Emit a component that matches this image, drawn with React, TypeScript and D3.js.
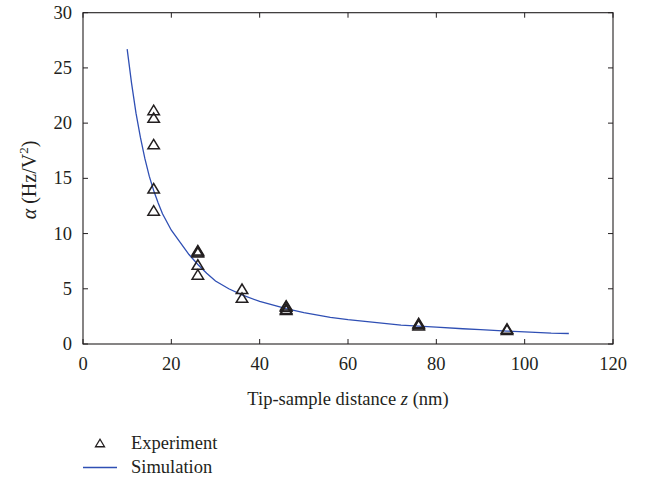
import React from "react";
import * as d3 from "d3";

const expZ = [16, 16, 16, 16, 16, 26, 26, 26, 26, 26, 36, 36, 46, 46, 46, 46, 76, 76, 76, 96, 96];
const expAlpha = [21.2, 20.5, 18.1, 14.1, 12.1, 8.5, 8.4, 8.3, 7.2, 6.3, 5.0, 4.2, 3.5, 3.4, 3.2, 3.1, 1.9, 1.8, 1.7, 1.4, 1.3];

const simZ = [10, 11, 12, 13, 14, 15, 16, 17, 18, 20, 22, 24, 26, 28, 30, 33, 36, 40, 46, 50, 56, 60, 66, 72, 76, 80, 86, 90, 96, 100, 106, 110];
const simAlpha = [26.7, 23.6, 20.9, 18.7, 16.8, 15.2, 13.9, 12.8, 11.8, 10.3, 9.2, 8.1, 7.2, 6.4, 5.7, 5.0, 4.45, 3.85, 3.2, 2.85, 2.42, 2.2, 1.95, 1.7, 1.62, 1.52, 1.38, 1.3, 1.17, 1.1, 0.98, 0.95];

const xTicks = [0, 20, 40, 60, 80, 100, 120];
const yTicks = [0, 5, 10, 15, 20, 25, 30];

const W = 651;
const H = 479;
const L = 83, R = 613, T = 12.7, B = 344;
const FONT = "'Liberation Serif', 'Times New Roman', serif";
const INK = "#231f20";
const BLUE = "#2f4fb4";

function tri(cx: number, cy: number, w: number, h: number) {
  return `M${cx - w / 2},${cy + h / 2}L${cx + w / 2},${cy + h / 2}L${cx},${cy - h / 2}Z`;
}

export default function App() {
  const x = d3.scaleLinear().domain([0, 120]).range([L, R]);
  const y = d3.scaleLinear().domain([0, 30]).range([B, T]);
  const line = d3
    .line<number>()
    .x((_, i) => x(simZ[i]))
    .y((d) => y(d));
  const tk = 5;
  return (
    <svg
      width={W}
      height={H}
      style={{ position: "absolute", left: 0, top: 0, background: "#fff" }}
      fontFamily={FONT}
    >
      <rect x={0} y={0} width={W} height={H} fill="#fff" />
      <path d={line(simAlpha) || ""} fill="none" stroke={BLUE} strokeWidth={1.3} />
      {expZ.map((z, i) => (
        <path
          key={i}
          d={tri(x(z), y(expAlpha[i]), 11.5, 9.5)}
          fill="none"
          stroke={INK}
          strokeWidth={1.5}
        />
      ))}
      <rect x={L} y={T} width={R - L} height={B - T} fill="none" stroke={INK} strokeWidth={1.1} />
      {xTicks.map((t) => (
        <g key={"x" + t}>
          <line x1={x(t)} x2={x(t)} y1={B} y2={B - tk} stroke={INK} strokeWidth={1} />
          <line x1={x(t)} x2={x(t)} y1={T} y2={T + tk} stroke={INK} strokeWidth={1} />
          <text x={x(t)} y={370} textAnchor="middle" fontSize={18.5} fill={INK}>
            {t}
          </text>
        </g>
      ))}
      {yTicks.map((t) => (
        <g key={"y" + t}>
          <line x1={L} x2={L + tk} y1={y(t)} y2={y(t)} stroke={INK} strokeWidth={1} />
          <line x1={R} x2={R - tk} y1={y(t)} y2={y(t)} stroke={INK} strokeWidth={1} />
          <text x={72} y={y(t) + 6} textAnchor="end" fontSize={18.5} fill={INK}>
            {t}
          </text>
        </g>
      ))}
      <text x={(L + R) / 2} y={405} textAnchor="middle" fontSize={18.5} fill={INK}>
        Tip-sample distance <tspan fontStyle="italic">z</tspan> (nm)
      </text>
      <text
        transform={`translate(36,180) rotate(-90)`}
        textAnchor="middle"
        fontSize={20}
        fill={INK}
      >
        <tspan fontStyle="italic">α</tspan> (Hz/V<tspan dy={-8} fontSize={13}>2</tspan>
        <tspan dy={8}>)</tspan>
      </text>
      <path d={tri(100, 443, 9, 7.5)} fill="none" stroke={INK} strokeWidth={1.3} />
      <text x={131} y={449} fontSize={18.5} fill={INK}>
        Experiment
      </text>
      <line x1={83} x2={117} y1={467.5} y2={467.5} stroke={BLUE} strokeWidth={1.3} />
      <text x={131} y={473} fontSize={18.5} fill={INK}>
        Simulation
      </text>
    </svg>
  );
}
